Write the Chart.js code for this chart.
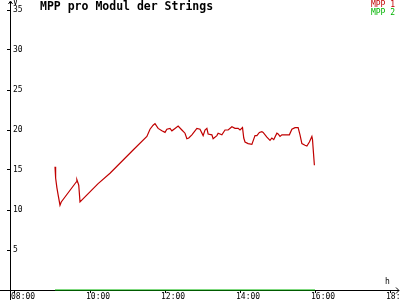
<!DOCTYPE html>
<html>
<head>
<meta charset="utf-8">
<script src="https://cdn.jsdelivr.net/npm/chart.js@4"></script>
<style>
  html, body { margin: 0; padding: 0; background: #fff; }
  canvas { display: block; }
</style>
</head>
<body>
<canvas id="mppChart" width="400" height="300"></canvas>
<script>
// MPP 1 readings (time of day, volts per module)
const mpp1Times = [
  '09:04', '09:05', '09:07', '09:09', '09:12', '09:14', '09:38', '09:39', '09:42', '09:44',
  '10:13', '10:32', '11:09', '11:31', '11:36', '11:41', '11:44', '11:49', '11:55', '12:00',
  '12:03', '12:08', '12:11', '12:16', '12:21', '12:27', '12:32', '12:35', '12:38', '12:43',
  '12:51', '12:56', '13:01', '13:04', '13:07', '13:09', '13:15', '13:17', '13:23', '13:25',
  '13:31', '13:36', '13:41', '13:47', '13:52', '13:57', '14:00', '14:04', '14:06', '14:08',
  '14:13', '14:19', '14:24', '14:27', '14:31', '14:35', '14:37', '14:43', '14:48', '14:51',
  '14:54', '14:59', '15:01', '15:04', '15:07', '15:19', '15:23', '15:28', '15:33', '15:36',
  '15:39', '15:44', '15:47', '15:51', '15:55', '15:56', '15:57', '15:59'
];
const mpp1Values = [
  15.4, 14.0, 12.8, 11.9, 10.6, 11.0, 13.5, 13.8, 13.1, 11.0,
  13.3, 14.6, 17.5, 19.2, 20.1, 20.6, 20.8, 20.2, 19.9, 19.7,
  20.1, 20.2, 19.9, 20.2, 20.5, 20.0, 19.6, 18.9, 19.0, 19.4,
  20.2, 20.1, 19.3, 20.0, 20.2, 19.5, 19.4, 18.9, 19.3, 19.6,
  19.4, 20.0, 20.0, 20.4, 20.2, 20.2, 20.0, 20.3, 19.0, 18.5,
  18.3, 18.2, 19.3, 19.3, 19.7, 19.8, 19.7, 19.1, 18.7, 19.0,
  18.8, 19.6, 19.5, 19.2, 19.4, 19.4, 20.1, 20.3, 20.3, 19.4,
  18.3, 18.1, 18.0, 18.5, 19.2, 18.8, 17.7, 15.6
];
// MPP 2 stays on the zero line
const mpp2Times = ['09:04', '16:00'];
const mpp2Values = [0, 0];

const seriesLabels = ['MPP 1', 'MPP 2'];
const seriesColors = ['#c00000', '#00b400'];
const hourTicks = [8, 10, 12, 14, 16, 18];
const voltTicks = [5, 10, 15, 20, 25, 30, 35];

const monoFont = '"DejaVu Sans Mono", "Liberation Mono", monospace';

function toHours(t) {
  const [h, m] = t.split(':').map(Number);
  return h + m / 60;
}

function toPoints(times, values) {
  return times.map((t, i) => ({ x: toHours(t), y: values[i] }));
}

// keep Chart.js from adding room for overhanging labels
function noLabelPadding(scale) {
  scale.paddingLeft = 0;
  scale.paddingRight = 0;
  scale.paddingTop = 0;
  scale.paddingBottom = 0;
}

// Title, legend, axis arrows and unit letters
const decorPlugin = {
  id: 'decor',
  afterDraw(chart) {
    const { ctx, chartArea } = chart;
    const ax = Math.round(chartArea.left) + 0.5;
    const ay = Math.round(chartArea.bottom) + 0.5;

    ctx.save();
    ctx.strokeStyle = '#000';
    ctx.lineWidth = 1;
    ctx.beginPath();
    ctx.moveTo(ax, chartArea.bottom);
    ctx.lineTo(ax, 300);
    ctx.moveTo(0, ay);
    ctx.lineTo(chartArea.left, ay);
    ctx.moveTo(chartArea.right, ay);
    ctx.lineTo(399, ay);
    ctx.moveTo(ax - 2, 4);
    ctx.lineTo(ax, 1);
    ctx.lineTo(ax + 2, 4);
    ctx.moveTo(396, ay - 3);
    ctx.lineTo(399, ay);
    ctx.lineTo(396, ay + 3);
    ctx.stroke();

    ctx.fillStyle = '#000';
    ctx.textBaseline = 'middle';
    ctx.textAlign = 'left';
    ctx.font = 'bold 11.5px ' + monoFont;
    ctx.fillText('MPP pro Modul der Strings', 40, 7.5);

    ctx.font = '8px ' + monoFont;
    ctx.fillText('V', 13, 2.5);
    ctx.fillText('h', 385, 281.5);

    ctx.textAlign = 'right';
    chart.data.datasets.forEach((ds, i) => {
      ctx.fillStyle = ds.borderColor;
      ctx.fillText(ds.label, 395, 4.5 + i * 8);
    });
    ctx.restore();
  }
};

const ctx = document.getElementById('mppChart').getContext('2d');

new Chart(ctx, {
  type: 'line',
  data: {
    datasets: [
      {
        label: seriesLabels[0],
        data: toPoints(mpp1Times, mpp1Values),
        borderColor: seriesColors[0],
        borderWidth: 1.2,
        pointRadius: 0,
        tension: 0,
        clip: false,
      },
      {
        label: seriesLabels[1],
        data: toPoints(mpp2Times, mpp2Values),
        borderColor: seriesColors[1],
        borderWidth: 1.2,
        pointRadius: 0,
        tension: 0,
        clip: false,
      },
    ],
  },
  options: {
    responsive: false,
    animation: false,
    devicePixelRatio: 1,
    layout: {
      autoPadding: false,
      padding: { left: 4, top: 2, right: 2, bottom: 0 },
    },
    scales: {
      x: {
        type: 'linear',
        min: 7.8667,
        max: 18.213,
        afterBuildTicks: (scale) => {
          scale.ticks = hourTicks.map((h) => ({ value: h }));
        },
        afterFit: (scale) => {
          scale.height = 10;
          noLabelPadding(scale);
        },
        ticks: {
          align: 'start',
          labelOffset: -4,
          maxRotation: 0,
          autoSkip: false,
          padding: 0,
          color: '#000',
          font: { family: monoFont, size: 8, lineHeight: 1 },
          callback: (v) => String(v).padStart(2, '0') + ':00',
        },
        grid: { drawOnChartArea: false, tickLength: 3, color: '#000' },
        border: { color: '#000' },
      },
      y: {
        type: 'linear',
        min: 0,
        max: 36,
        afterBuildTicks: (scale) => {
          scale.ticks = voltTicks.map((v) => ({ value: v }));
        },
        afterFit: (scale) => {
          scale.width = 6;
          noLabelPadding(scale);
        },
        ticks: {
          mirror: true,
          padding: 3,
          color: '#000',
          font: { family: monoFont, size: 8, lineHeight: 1 },
        },
        grid: { drawOnChartArea: false, tickLength: 3, color: '#000' },
        border: { color: '#000' },
      },
    },
    plugins: {
      legend: { display: false },
      tooltip: { enabled: false },
      title: { display: false },
    },
  },
  plugins: [decorPlugin],
});
</script>
</body>
</html>
